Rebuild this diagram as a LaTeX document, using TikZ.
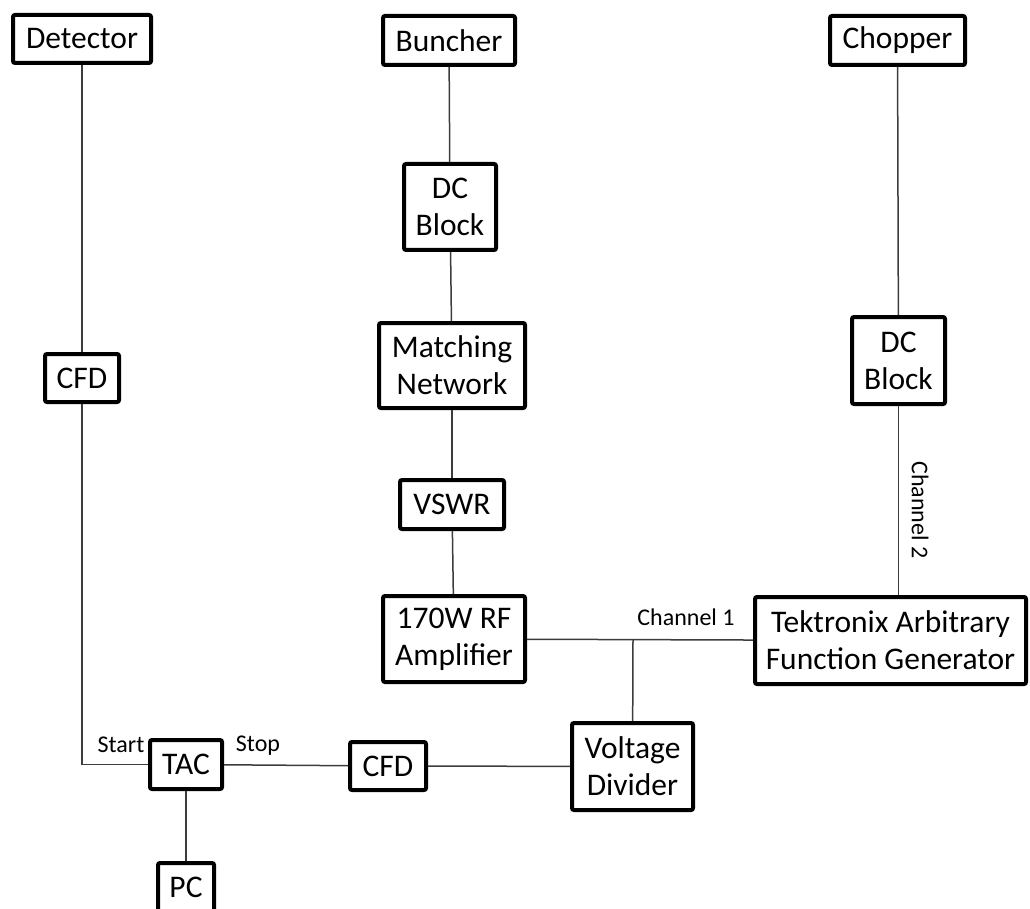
\documentclass[tikz,border=0pt]{standalone}
\usepackage{fontspec}
\setmainfont{Carlito}
\usepackage{tikz}
\usetikzlibrary{positioning, calc}
\definecolor{WireGray}{RGB}{60, 60, 60}

\begin{document}
\begin{tikzpicture}[x=1pt,y=-1pt,
    blk/.style={draw=black, line width=4pt, rounded corners=2pt, fill=white,
      inner sep=0pt, align=center, font=\fontsize{31.5}{37}\selectfont},
    wire/.style={draw=WireGray, line width=1.5pt},
    lbl/.style={inner sep=0pt, font=\fontsize{24}{28}\selectfont}]
  \path[use as bounding box] (0,0) rectangle (1030,909);

  % top row
  \node[blk, minimum width=138pt, minimum height=48pt] (detector) at (82,39) {Detector};
  \node[blk, minimum width=132pt, minimum height=49pt] (buncher) at (449,40.5) {Buncher};
  \node[blk, minimum width=135pt, minimum height=49pt] (chopper) at (897.5,40.5) {Chopper};

  % buncher chain
  \node[blk, minimum width=92pt, minimum height=86pt] (dcblkA) at (450,207) {DC\\Block};
  \node[blk, minimum width=146pt, minimum height=85pt] (matchnet) at (452,365.5) {Matching\\Network};
  \node[blk, minimum width=104pt, minimum height=49pt] (vswr) at (452,504.5) {VSWR};
  \node[blk, minimum width=142pt, minimum height=86pt] (amp) at (454,639) {170W RF\\Amplifier};

  % chopper chain
  \node[blk, minimum width=93pt, minimum height=87pt] (dcblkB) at (898.5,360.5) {DC\\Block};
  \node[blk, minimum width=271pt, minimum height=87pt] (afg) at (890.5,640.5) {Tektronix Arbitrary\\Function Generator};

  % timing
  \node[blk, minimum width=74pt, minimum height=48pt] (cfdA) at (82,378) {CFD};
  \node[blk, minimum width=72pt, minimum height=49pt] (tac) at (186,764.5) {TAC};
  \node[blk, minimum width=56pt, minimum height=49pt] (pc) at (186,887.5) {PC};
  \node[blk, minimum width=76pt, minimum height=48pt] (cfdB) at (388,766) {CFD};
  \node[blk, minimum width=121pt, minimum height=87pt] (vdiv) at (632.5,766.5) {Voltage\\Divider};
  \coordinate (junc) at (633,640);

  % wires
  \draw[wire] (detector) -- (cfdA);
  \draw[wire] (cfdA) |- (tac);
  \draw[wire] (tac) -- (pc);
  \draw[wire] (tac) -- (cfdB);
  \draw[wire] (cfdB) -- (vdiv);
  \draw[wire] (vdiv) -- (junc);
  \draw[wire] (amp) -- (afg);
  \draw[wire] (buncher) -- (dcblkA);
  \draw[wire] (dcblkA) -- (matchnet);
  \draw[wire] (matchnet) -- (vswr);
  \draw[wire] (vswr) -- (amp);
  \draw[wire] (chopper) -- (dcblkB);
  \draw[wire] (dcblkB.south) -- (dcblkB.south |- afg.north);

  % labels
  \node[lbl] (start) at (121,745) {Start};
  \node[lbl] (stop) at (258,746) {Stop};
  \node[lbl] (ch1) at (686,617) {Channel 1};
  \node[lbl, rotate=-90] (ch2) at (920,510) {Channel 2};
\end{tikzpicture}
\end{document}
